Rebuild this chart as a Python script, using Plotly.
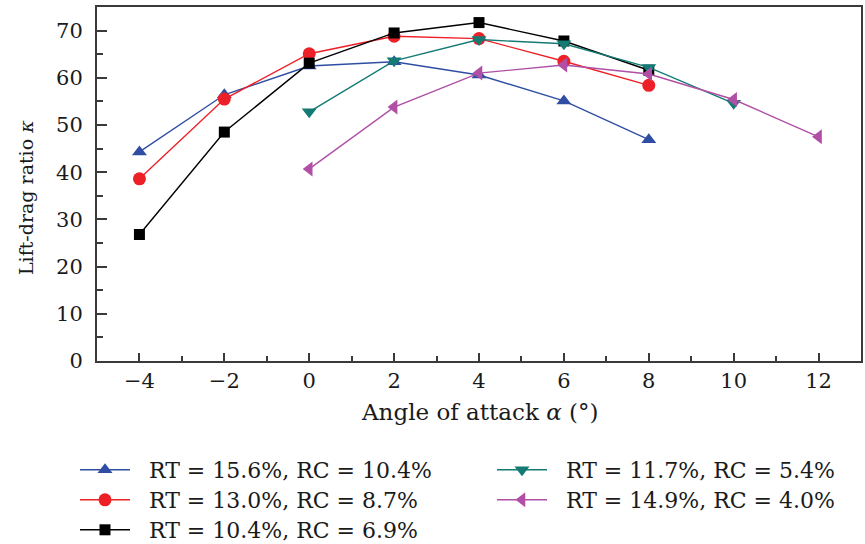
import plotly.graph_objects as go

# Angle of attack (deg) for each configuration
alpha_a = [-4, -2, 0, 2, 4, 6, 8]
alpha_b = [0, 2, 4, 6, 8, 10]
alpha_c = [0, 2, 4, 6, 8, 10, 12]

# Lift-drag ratio values
k_156_104 = [44.3, 56.4, 62.5, 63.4, 60.6, 55.1, 46.9]
k_130_87 = [38.6, 55.5, 65.1, 68.8, 68.3, 63.5, 58.4]
k_104_69 = [26.8, 48.5, 63.1, 69.5, 71.7, 67.8, 61.6]
k_117_54 = [52.8, 63.6, 68.1, 67.2, 62.2, 54.6]
k_149_40 = [40.7, 53.8, 61.0, 62.7, 60.8, 55.4, 47.5]

names = [
    "RT = 15.6%, RC = 10.4%",
    "RT = 13.0%, RC = 8.7%",
    "RT = 10.4%, RC = 6.9%",
    "RT = 11.7%, RC = 5.4%",
    "RT = 14.9%, RC = 4.0%",
]

xs = [alpha_a, alpha_a, alpha_a, alpha_b, alpha_c]
ys = [k_156_104, k_130_87, k_104_69, k_117_54, k_149_40]
colors = ["#2f4ea3", "#ee2027", "#000000", "#137b74", "#b04fa5"]
symbols = ["triangle-up", "circle", "square", "triangle-down", "triangle-left"]
sizes = [13, 13, 11, 13, 13]

# one single-entry legend per series, arranged in two columns
legend_ids = ["legend", "legend2", "legend3", "legend4", "legend5"]
legend_xy = [(75, 470), (75, 500), (75, 530), (492, 470), (492, 500)]

FONT = "DejaVu Serif, Liberation Serif, serif"
INK = "#1a1a1a"
AX = "#3a3a3a"
GAP = "\u00a0\u00a0"  # extra room between legend symbol and label

W, H = 865, 544
fig = go.Figure()
for x, y, n, c, s, sz, lg in zip(xs, ys, names, colors, symbols, sizes, legend_ids):
    fig.add_trace(go.Scatter(
        x=x, y=y, name=GAP + n, mode="lines+markers",
        line=dict(color=c, width=1.4),
        marker=dict(color=c, symbol=s, size=sz),
        legend=lg, showlegend=True,
    ))

axis_common = dict(
    showline=True, linecolor=AX, linewidth=2, mirror=True,
    ticks="inside", tickwidth=1.5, tickcolor=AX,
    showgrid=False, zeroline=False,
    tickfont=dict(family=FONT, size=21, color=INK),
)

fig.update_xaxes(
    range=[-5, 13], tickvals=[-4, -2, 0, 2, 4, 6, 8, 10, 12],
    ticktext=["\u22124", "\u22122", "0", "2", "4", "6", "8", "10", "12"],
    ticklen=8,
    minor=dict(ticks="inside", ticklen=5, tickwidth=1.5, tickcolor=AX, dtick=1),
    **axis_common,
)
fig.update_yaxes(
    range=[0, 75], tickvals=[0, 10, 20, 30, 40, 50, 60, 70],
    ticklen=10, ticklabelstandoff=8,
    minor=dict(ticks="inside", ticklen=6, tickwidth=1.5, tickcolor=AX, dtick=5),
    **axis_common,
)

# axis titles
fig.add_annotation(
    text="Angle of attack <i>\u03b1</i> (\u00b0)", xref="paper", yref="paper",
    x=0.5, y=-(412 - 361) / 354, xanchor="center", yanchor="middle",
    showarrow=False, font=dict(family=FONT, size=23, color=INK),
)
fig.add_annotation(
    text="Lift-drag ratio <i>\u03ba</i>", xref="paper", yref="paper",
    x=(26 - 97) / 764, y=(361 - 198) / 354, xanchor="center", yanchor="middle",
    textangle=-90, showarrow=False, font=dict(family=FONT, size=19, color=INK),
)

legends = {}
for lg, (lx, ly) in zip(legend_ids, legend_xy):
    legends[lg] = dict(
        xref="container", yref="container", x=lx / W, y=1 - ly / H,
        xanchor="left", yanchor="middle", orientation="h",
        font=dict(family=FONT, size=22, color=INK),
        bgcolor="rgba(0,0,0,0)", itemwidth=50, borderwidth=0,
    )

fig.update_layout(
    width=W, height=H, showlegend=True,
    margin=dict(l=97, r=4, t=7, b=183, autoexpand=False),
    plot_bgcolor="white", paper_bgcolor="white",
    **legends,
)

fig.write_html("out.html")
